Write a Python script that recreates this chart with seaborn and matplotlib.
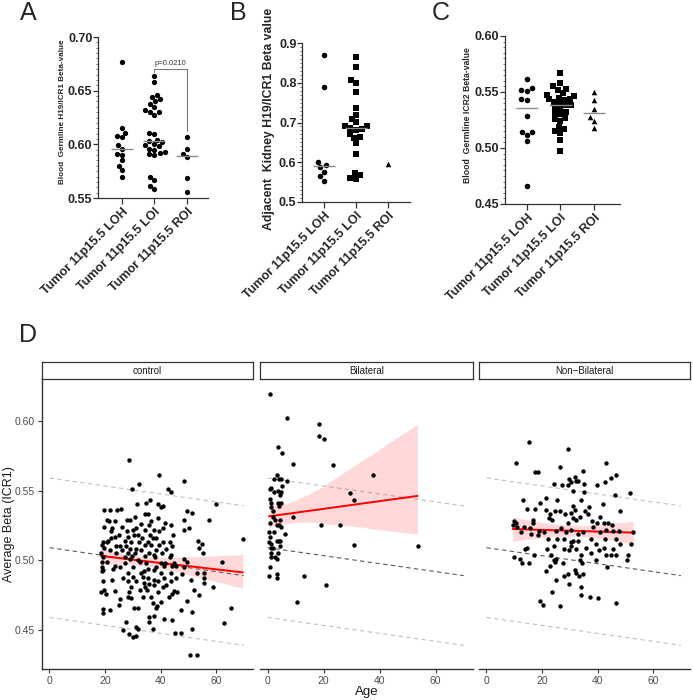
import numpy as np
import pandas as pd
import matplotlib
matplotlib.use("Agg")
import matplotlib.pyplot as plt
import seaborn as sns
from matplotlib.ticker import MultipleLocator

sns.set_theme(style="ticks")
plt.rcParams["font.family"] = ["Liberation Sans", "DejaVu Sans"]

# ---------------- data ----------------
groups = ["Tumor 11p15.5 LOH", "Tumor 11p15.5 LOI", "Tumor 11p15.5 ROI"]

a_loh = [0.677, 0.615, 0.611, 0.608, 0.607, 0.599, 0.596, 0.591, 0.590, 0.585, 0.580, 0.576, 0.570]
a_loi = [0.664, 0.658, 0.646, 0.644, 0.642, 0.640, 0.638, 0.635, 0.632, 0.630, 0.630, 0.627,
         0.611, 0.610, 0.604, 0.603, 0.602, 0.600, 0.599, 0.598, 0.596, 0.595, 0.593, 0.592,
         0.591, 0.590, 0.570, 0.567, 0.561, 0.558]
a_roi = [0.607, 0.596, 0.591, 0.588, 0.569, 0.556]
a_pvalue = "p=0.0210"

b_loh = [0.871, 0.789, 0.600, 0.593, 0.587, 0.576, 0.565, 0.554]
b_loi = [0.865, 0.840, 0.806, 0.799, 0.777, 0.737, 0.720, 0.710, 0.701, 0.692, 0.690, 0.686,
         0.684, 0.682, 0.672, 0.663, 0.661, 0.648, 0.622, 0.573, 0.567, 0.560, 0.558]
b_roi = [0.596]

c_loh = [0.562, 0.554, 0.552, 0.551, 0.544, 0.543, 0.529, 0.514, 0.514, 0.512, 0.506, 0.466]
c_loi = [0.567, 0.558, 0.555, 0.553, 0.552, 0.549, 0.547, 0.546, 0.545, 0.544, 0.544, 0.543,
         0.541, 0.540, 0.538, 0.538, 0.536, 0.535, 0.532, 0.531, 0.530, 0.527, 0.526, 0.524,
         0.519, 0.517, 0.515, 0.513, 0.507, 0.497]
c_roi = [0.550, 0.543, 0.535, 0.528, 0.524, 0.518]

facets = ["control", "Bilateral", "Non\u2212Bilateral"]

control_age = [
    28.7,
    39.6, 48.3, 32.2, 29.8, 42.8, 43.9,
    59.8, 31.5, 34.8, 36.2, 39.0, 41.0, 40.2,
    19.7, 21.8, 24.4, 25.9, 49.7, 51.3,
    34.5, 35.4, 30.9, 39.0, 36.6, 48.3, 57.5, 20.6, 21.5, 27.9, 29.1,
    41.7, 43.8, 33.1, 35.7, 23.5, 26.2, 19.7, 22.6, 22.1, 31.3, 30.1, 34.3,
    27.9, 37.8, 40.8, 39.4, 48.5, 50.1,
    25.1, 23.5, 22.1, 21.2, 30.4, 31.9, 36.3, 44.5, 33.4, 37.2, 38.4, 28.3,
    19.4, 20.6, 40.8, 43.5, 53.6, 55.1, 69.6, 35.4, 32.2, 27.1, 29.5,
    24.1, 25.3, 27.7, 34.3, 36.6, 39.6, 44.1, 18.8, 19.7, 53.9,
    31.3, 28.9, 33.1, 38.4, 42.0, 21.8, 26.2, 55.3,
    18.5, 24.1, 28.3, 30.9, 36.0, 37.6, 40.6, 43.8,
    29.7, 34.3, 38.1, 43.5, 19.4, 28.9, 31.9, 27.1, 48.5, 49.7,
    18.8, 20.6, 32.7, 34.8, 40.2, 41.6, 45.0, 23.5, 27.1, 45.6, 62.2,
    19.0, 22.7, 19.4, 25.3, 30.1, 38.4, 44.1, 41.4, 48.5, 35.4, 37.6, 34.0,
    28.3, 33.1, 40.2, 43.8, 47.9, 53.1, 55.7, 18.8,
    26.5, 30.1, 33.7, 35.4, 37.8, 41.4, 45.6, 55.7, 50.9,
    19.4, 22.4, 28.3, 31.3, 34.0, 36.0, 39.0, 43.8,
    29.3, 34.3, 37.8, 40.8, 42.0, 55.7, 59.0,
    19.7, 32.5, 35.2, 45.0, 51.9, 23.5,
    18.5, 20.2, 28.5, 39.2, 44.1, 45.9, 29.5, 28.3, 33.7, 36.4, 25.3,
    43.2, 53.9, 40.2, 49.5, 37.2, 25.0, 31.9, 30.4, 38.2, 38.8,
    19.4, 21.8, 47.3, 51.3, 65.4, 19.4,
    35.7, 37.6, 41.4, 44.1, 27.5, 36.0, 62.8,
    31.3, 26.3, 31.9, 37.2, 45.3, 47.3, 51.3, 28.5, 30.1, 31.3,
    50.7, 53.1]
control_beta = [
    0.572,
    0.561, 0.557, 0.555, 0.551, 0.551, 0.549,
    0.540, 0.540, 0.541, 0.543, 0.540, 0.539, 0.538,
    0.536, 0.536, 0.536, 0.537, 0.535, 0.534,
    0.533, 0.533, 0.531, 0.530, 0.528, 0.529, 0.529, 0.529, 0.528, 0.529, 0.529,
    0.527, 0.525, 0.526, 0.525, 0.528, 0.524, 0.524, 0.523, 0.521, 0.523, 0.522, 0.522,
    0.521, 0.522, 0.523, 0.521, 0.522, 0.523,
    0.518, 0.517, 0.516, 0.514, 0.518, 0.518, 0.518, 0.518, 0.516, 0.516, 0.516, 0.517,
    0.513, 0.513, 0.513, 0.513, 0.514, 0.512, 0.515, 0.513, 0.513, 0.514, 0.513,
    0.510, 0.510, 0.510, 0.511, 0.511, 0.511, 0.510, 0.511, 0.509, 0.509,
    0.508, 0.508, 0.507, 0.507, 0.508, 0.507, 0.507, 0.505,
    0.505, 0.505, 0.505, 0.505, 0.505, 0.504, 0.505, 0.504,
    0.503, 0.503, 0.502, 0.502, 0.502, 0.501, 0.500, 0.502, 0.501, 0.499,
    0.499, 0.499, 0.499, 0.498, 0.498, 0.498, 0.498, 0.496, 0.498, 0.496, 0.499,
    0.495, 0.494, 0.493, 0.495, 0.495, 0.495, 0.496, 0.496, 0.495, 0.494, 0.493, 0.492,
    0.491, 0.491, 0.491, 0.491, 0.490, 0.491, 0.491, 0.492,
    0.487, 0.488, 0.488, 0.487, 0.486, 0.487, 0.487, 0.487, 0.486,
    0.485, 0.486, 0.485, 0.485, 0.484, 0.483, 0.485, 0.485,
    0.481, 0.481, 0.482, 0.481, 0.482, 0.484, 0.481,
    0.479, 0.479, 0.479, 0.478, 0.479, 0.478,
    0.477, 0.476, 0.477, 0.477, 0.476, 0.477, 0.473, 0.474, 0.474, 0.474, 0.472,
    0.474, 0.475, 0.470, 0.471, 0.469, 0.468, 0.466, 0.466, 0.466, 0.467,
    0.465, 0.464, 0.464, 0.463, 0.466, 0.462,
    0.459, 0.460, 0.458, 0.457, 0.456, 0.456, 0.455,
    0.452, 0.450, 0.451, 0.451, 0.448, 0.448, 0.451, 0.447, 0.445, 0.446,
    0.432, 0.432]

bilateral_age = [0.8, 6.8, 18.2, 18.4, 20.2, 3.6, 5.3, 9.1, 23.3, 37.5, 3.5, 2.3, 4.1, 4.7, 7.1,
                 0.8, 1.4, 5.0, 2.2, 3.6, 4.8, 4.4, 1.0, 29.3, 30.9, 1.4, 3.8, 4.8, 4.1, 1.2,
                 1.8, 9.2, 1.8, 2.6, 4.4, 0.8, 3.3, 4.1, 4.8, 19.2, 25.7, 0.5, 2.4, 6.2, 0.8,
                 3.2, 4.1, 4.4, 0.5, 1.2, 30.7, 53.5, 4.5, 1.4, 2.0, 1.2, 3.6, 1.4, 2.6, 3.2,
                 0.8, 3.2, 0.6, 3.5, 12.9, 21.0, 10.4]
bilateral_beta = [0.619, 0.602, 0.598, 0.589, 0.587, 0.581, 0.577, 0.569, 0.568, 0.561, 0.561,
                  0.558, 0.558, 0.558, 0.557, 0.551, 0.552, 0.553, 0.549, 0.550, 0.549, 0.547,
                  0.544, 0.548, 0.543, 0.541, 0.541, 0.541, 0.539, 0.538, 0.535, 0.531, 0.531,
                  0.529, 0.529, 0.527, 0.525, 0.525, 0.524, 0.525, 0.525, 0.520, 0.520, 0.519,
                  0.517, 0.514, 0.514, 0.514, 0.513, 0.512, 0.511, 0.510, 0.510, 0.509, 0.509,
                  0.505, 0.505, 0.502, 0.502, 0.501, 0.495, 0.490, 0.489, 0.487, 0.489, 0.482,
                  0.470]

nonbilateral_age = [15.2, 29.4, 10.5, 43.0, 26.3, 17.6, 18.5, 31.8, 34.7, 46.5,
                    44.8, 29.6, 32.4, 30.6, 33.0, 24.2, 27.3, 29.3, 35.1, 39.8,
                    42.7, 31.3, 35.2, 51.7, 46.3, 21.6, 13.1, 25.5, 34.2, 17.6,
                    14.7, 19.4, 31.1, 36.9, 41.8, 48.1, 31.8, 35.4, 21.4, 24.6,
                    26.4, 23.0, 28.4, 30.6, 36.4, 40.8, 16.6, 22.5, 31.2, 32.2,
                    33.6, 23.6, 38.1, 29.4, 38.4, 42.4, 43.9, 39.8, 45.1, 9.9,
                    10.7, 11.1, 9.4, 13.5, 16.6, 15.5, 18.9, 20.7, 26.7, 30.6,
                    16.1, 18.5, 12.5, 25.2, 28.5, 32.8, 34.9, 41.0, 42.9, 45.7,
                    47.7, 22.2, 25.5, 27.8, 30.4, 31.2, 33.0, 37.6, 39.3, 42.7,
                    46.5, 48.1, 52.0, 14.7, 14.0, 21.7, 24.3, 27.8, 30.4, 32.4,
                    29.6, 35.7, 42.2, 45.7, 17.1, 9.9, 11.9, 12.8, 15.2, 23.4,
                    25.2, 24.6, 34.2, 37.6, 40.6, 42.9, 44.8, 46.7, 50.5, 51.1,
                    23.0, 24.2, 27.6, 33.6, 34.5, 39.6, 43.3, 21.6, 27.9, 29.4,
                    31.8, 32.4, 33.3, 34.6, 25.2, 29.8, 34.0, 23.7, 34.0, 37.2,
                    40.0, 19.2, 20.4, 26.5, 46.5, 52.9]
nonbilateral_beta = [0.585, 0.580, 0.570, 0.570, 0.567, 0.563, 0.563, 0.560, 0.564, 0.561,
                     0.559, 0.558, 0.557, 0.556, 0.557, 0.555, 0.554, 0.554, 0.555, 0.554,
                     0.556, 0.550, 0.549, 0.548, 0.547, 0.545, 0.543, 0.543, 0.543, 0.537,
                     0.537, 0.541, 0.539, 0.538, 0.540, 0.535, 0.536, 0.535, 0.536, 0.535,
                     0.535, 0.533, 0.533, 0.534, 0.533, 0.531, 0.529, 0.530, 0.530, 0.529,
                     0.531, 0.529, 0.528, 0.527, 0.524, 0.527, 0.527, 0.527, 0.525, 0.528,
                     0.527, 0.524, 0.525, 0.524, 0.527, 0.523, 0.521, 0.520, 0.523, 0.522,
                     0.519, 0.518, 0.520, 0.521, 0.520, 0.519, 0.520, 0.520, 0.522, 0.521,
                     0.521, 0.515, 0.515, 0.515, 0.513, 0.514, 0.514, 0.515, 0.512, 0.515,
                     0.515, 0.512, 0.512, 0.509, 0.508, 0.508, 0.510, 0.508, 0.510, 0.508,
                     0.507, 0.509, 0.509, 0.508, 0.504, 0.502, 0.501, 0.498, 0.498, 0.504,
                     0.501, 0.499, 0.504, 0.505, 0.507, 0.504, 0.504, 0.504, 0.500, 0.504,
                     0.496, 0.500, 0.498, 0.500, 0.498, 0.500, 0.495, 0.492, 0.489, 0.490,
                     0.493, 0.491, 0.489, 0.490, 0.486, 0.483, 0.481, 0.477, 0.475, 0.474,
                     0.473, 0.471, 0.468, 0.467, 0.469, 0.520]

# reference (dashed) lines in panel D: intercept, slope per year, offset of outer lines
ref_intercept = 0.509
ref_slope = -0.000286
ref_offset = 0.05
ref_age_range = [0, 70]

# ---------------- figure ----------------
W, H = 693, 700
fig = plt.figure(figsize=(W / 100, H / 100), dpi=100, facecolor="white")


def rect(x0, y0, x1, y1):
    return [x0 / W, 1 - y1 / H, (x1 - x0) / W, (y1 - y0) / H]


def dot_panel(r, series, markers, msize, ylim, major, minor, fmt, xlim):
    ax = fig.add_axes(r)
    for i, (vals, mk) in enumerate(zip(series, markers)):
        df = pd.DataFrame({"group": groups[i], "value": vals})
        sns.swarmplot(data=df, x="group", y="value", order=groups, marker=mk,
                      color="black", size=msize, ax=ax, linewidth=0, zorder=3)
        med = float(np.median(vals))
        if len(vals) > 1:
            ax.hlines(med, i - 0.34, i + 0.34, color="#8c8c8c", lw=1.0, zorder=4)
    ax.set_ylim(*ylim)
    ax.set_xlim(*xlim)
    ax.yaxis.set_major_locator(MultipleLocator(major))
    ax.yaxis.set_minor_locator(MultipleLocator(minor))
    ax.yaxis.set_major_formatter(matplotlib.ticker.FormatStrFormatter(fmt))
    ax.set_xticks(range(3))
    ax.set_xticklabels(groups, rotation=45, ha="right", rotation_mode="anchor",
                       fontsize=9, fontweight="bold")
    for t in ax.get_yticklabels():
        t.set_fontweight("bold")
        t.set_fontsize(9)
    ax.tick_params(axis="y", which="major", length=3.5, width=0.9, color="#333333", pad=0.5)
    ax.tick_params(axis="y", which="minor", length=1.8, width=0.6, color="#555555")
    ax.tick_params(axis="x", length=4, width=0.9, color="#333333", pad=2)
    ax.set_xlabel("")
    ax.set_ylabel("")
    for s in ["top", "right"]:
        ax.spines[s].set_visible(False)
    for s in ["left", "bottom"]:
        ax.spines[s].set_color("#333333")
        ax.spines[s].set_linewidth(0.9)
    ax.set_facecolor("white")
    return ax


# Panel A
axA = dot_panel(rect(98, 37, 208, 198), [a_loh, a_loi, a_roi], ["o", "o", "o"], 3.8,
                (0.55, 0.70), 0.05, 0.005, "%.2f", (-0.74, 2.65))
axA.plot([1, 1, 2, 2], [0.6675, 0.6706, 0.6706, 0.6128], color="#7a7a7a", lw=0.8)
axA.text(1.5, 0.6722, a_pvalue, ha="center", va="bottom", fontsize=5.5, color="#333333")
fig.text(63 / W, 1 - 112 / H, "Blood  Germline H19/ICR1 Beta-value", rotation=90,
         ha="center", va="center", fontsize=5.9, fontweight="bold")

# Panel B
axB = dot_panel(rect(302, 43, 410, 202), [b_loh, b_loi, b_roi], ["o", "s", "^"], 4.0,
                (0.5, 0.9), 0.1, 0.01, "%.1f", (-0.69, 2.69))
fig.text(269 / W, 1 - 119 / H, "Adjacent  Kidney H19/ICR1 Beta value", rotation=90,
         ha="center", va="center", fontsize=8.8, fontweight="bold")

# Panel C
axC = dot_panel(rect(505, 36, 620, 204), [c_loh, c_loi, c_roi], ["o", "s", "^"], 4.0,
                (0.45, 0.60), 0.05, 0.005, "%.2f", (-0.66, 2.78))
fig.text(467 / W, 1 - 115 / H, "Blood  Germline ICR2 Beta-value", rotation=90,
         ha="center", va="center", fontsize=6.2, fontweight="bold")

# Panel letters
for lbl, (x, y) in zip("ABCD", [(28, 13), (238, 13), (441, 13), (28, 335)]):
    fig.text(x / W, 1 - y / H, lbl, ha="center", va="center", fontsize=18)

# Panel D facets
d_data = [(control_age, control_beta), (bilateral_age, bilateral_beta),
          (nonbilateral_age, nonbilateral_beta)]
d_x = [(42, 253), (260, 473), (479, 690)]
xs_ref = np.array(ref_age_range, dtype=float)
for k, ((ages, betas), (x0, x1), name) in enumerate(zip(d_data, d_x, facets)):
    ax = fig.add_axes(rect(x0, 379, x1, 669))
    ax.set_facecolor("white")
    mid = ref_intercept + ref_slope * xs_ref
    ax.plot(xs_ref, mid, ls=(0, (4, 3)), color="#5c5c5c", lw=0.8, zorder=1)
    ax.plot(xs_ref, mid + ref_offset, ls=(0, (4, 3)), color="#c2c2c2", lw=0.8, zorder=1)
    ax.plot(xs_ref, mid - ref_offset, ls=(0, (4, 3)), color="#c2c2c2", lw=0.8, zorder=1)
    sns.regplot(x=np.array(ages), y=np.array(betas), ax=ax, scatter=False, ci=95,
                n_boot=1000, seed=3, color="red", line_kws={"lw": 1.4, "zorder": 3})
    sns.scatterplot(x=ages, y=betas, ax=ax, color="black", s=10, linewidth=0, zorder=4)
    ax.set_xlim(-2.7, 73.3)
    ax.set_ylim(0.422, 0.630)
    ax.set_xticks([0, 20, 40, 60])
    ax.set_xlabel("")
    ax.set_ylabel("")
    ax.tick_params(axis="x", length=3, width=0.8, color="#333333", labelcolor="#4d4d4d",
                   labelsize=7.5, pad=2)
    for s in ["top", "right"]:
        ax.spines[s].set_visible(False)
    ax.spines["bottom"].set_color("#333333")
    ax.spines["bottom"].set_linewidth(1.0)
    if k == 0:
        ax.set_yticks([0.45, 0.50, 0.55, 0.60])
        ax.yaxis.set_major_formatter(matplotlib.ticker.FormatStrFormatter("%.2f"))
        ax.tick_params(axis="y", length=3, width=0.8, color="#333333", labelcolor="#4d4d4d",
                       labelsize=7.5, pad=2)
        ax.spines["left"].set_color("#333333")
        ax.spines["left"].set_linewidth(1.0)
    else:
        ax.spines["left"].set_visible(False)
        ax.set_yticks([])
    # strip
    sx = fig.add_axes(rect(x0, 362, x1, 379))
    sx.set_xticks([])
    sx.set_yticks([])
    sx.set_facecolor("white")
    for s in sx.spines.values():
        s.set_visible(True)
        s.set_color("#333333")
        s.set_linewidth(0.9)
    sx.text(0.5, 0.5, name, ha="center", va="center", fontsize=7, color="#1a1a1a",
            transform=sx.transAxes)

fig.text(9 / W, 1 - 524 / H, "Average Beta (ICR1)", rotation=90, ha="center", va="center",
         fontsize=9, color="#1a1a1a")
fig.text(367 / W, 1 - 692 / H, "Age", ha="center", va="center", fontsize=9.5,
         color="#1a1a1a")

fig.savefig("out.png", dpi=100, facecolor="white")
